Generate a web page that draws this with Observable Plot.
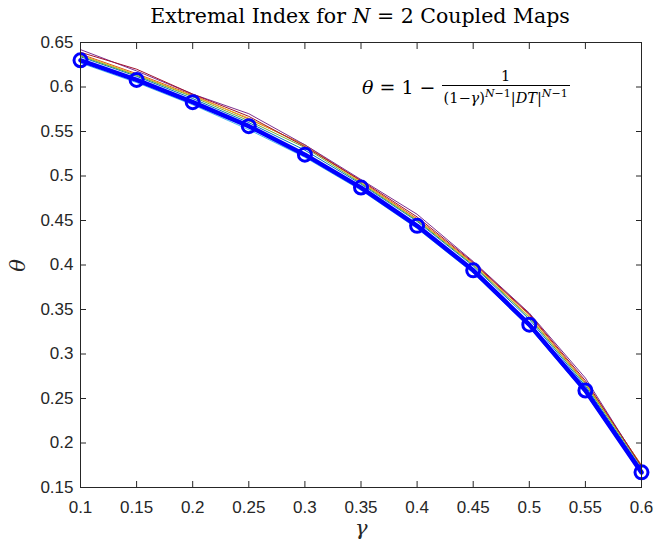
<!DOCTYPE html>
<html>
<head>
<meta charset="utf-8">
<script src="https://cdn.jsdelivr.net/npm/d3@7"></script>
<script src="https://cdn.jsdelivr.net/npm/@observablehq/plot@0.6"></script>
<style>
  body { margin: 0; background: #fff; }
  #wrap { position: relative; width: 658px; height: 542px; overflow: hidden; }
  #title { position: absolute; left: 0; width: 658px; top: 4px; text-align: center; padding-left: 62px; box-sizing: border-box;
           font-family: "DejaVu Serif", serif; font-size: 20.5px; color: #000; white-space: nowrap; }
  .lbl { position: absolute; font-family: "DejaVu Serif", serif; font-style: italic; font-size: 21px; line-height: 1; color: #262626; }
  #formula { position: absolute; left: 362px; top: 68px; font-family: "DejaVu Serif", serif; color: #000; white-space: nowrap; display: flex; align-items: center; }
  #formula .lhs { font-size: 19px; }
  #formula .frac { display: inline-flex; flex-direction: column; align-items: center; margin-left: 6px; font-size: 14.5px; }
  #formula .num { padding: 0 2px 1px; }
  #formula .den { border-top: 1px solid #000; padding: 1px 2px 0; }
  #formula sup { font-size: 11px; }
</style>
</head>
<body>
<div id="wrap">
  <div id="title">Extremal Index for <i>N</i> = 2 Coupled Maps</div>
  <div id="formula"><span class="lhs"><i>θ</i> = 1 − </span><span class="frac"><span class="num">1</span><span class="den">(1−<i>γ</i>)<sup><i>N</i>−1</sup>|<i>DT</i>|<sup><i>N</i>−1</sup></span></span></div>
  <div class="lbl" id="xlab" style="left:355px; top:518px;">γ</div>
  <div class="lbl" id="ylab" style="left:12px; top:255px; transform: rotate(-90deg);">θ</div>
</div>
<script>
// x values
const gamma = [0.1, 0.15, 0.2, 0.25, 0.3, 0.35, 0.4, 0.45, 0.5, 0.55, 0.6];
// theoretical extremal index (thick blue line with circles)
const thetaTheory = [0.630, 0.608, 0.583, 0.556, 0.524, 0.487, 0.444, 0.394, 0.333, 0.259, 0.167];
// thin estimated curves
const runBlue   = [0.634, 0.612, 0.587, 0.560, 0.529, 0.491, 0.449, 0.399, 0.339, 0.264, 0.171];
const runOrange = [0.637, 0.615, 0.591, 0.564, 0.535, 0.494, 0.452, 0.402, 0.344, 0.268, 0.175];
const runYellow = [0.636, 0.614, 0.590, 0.565, 0.534, 0.493, 0.451, 0.401, 0.342, 0.267, 0.175];
const runPurple = [0.642, 0.618, 0.592, 0.570, 0.535, 0.496, 0.457, 0.404, 0.346, 0.273, 0.173];
const runGreen  = [0.635, 0.613, 0.589, 0.562, 0.532, 0.492, 0.450, 0.400, 0.341, 0.266, 0.173];
const runCyan   = [0.627, 0.605, 0.580, 0.552, 0.521, 0.484, 0.441, 0.391, 0.330, 0.256, 0.165];
const runRed    = [0.639, 0.620, 0.592, 0.567, 0.533, 0.495, 0.454, 0.403, 0.345, 0.270, 0.174];
const runColors = ["#0072BD", "#D95319", "#EDB120", "#7E2F8E", "#77AC30", "#4DBEEE", "#A2142F"];
const runs = [runBlue, runOrange, runYellow, runPurple, runGreen, runCyan, runRed];
// tick labels
const xTicks = [0.1, 0.15, 0.2, 0.25, 0.3, 0.35, 0.4, 0.45, 0.5, 0.55, 0.6];
const yTicks = [0.15, 0.2, 0.25, 0.3, 0.35, 0.4, 0.45, 0.5, 0.55, 0.6, 0.65];

const theory = gamma.map((g, i) => ({g, t: thetaTheory[i]}));
const runMarks = runs.map((r, k) =>
  Plot.line(gamma.map((g, i) => ({g, t: r[i]})), {x: "g", y: "t", stroke: runColors[k], strokeWidth: 1})
);
const fmt = d => String(+d.toFixed(2));
const axisStyle = {fontSize: 17, fontFamily: "Liberation Sans, Arial, sans-serif", color: "#262626"};

const chart = Plot.plot({
  width: 658,
  height: 542,
  marginLeft: 80,
  marginRight: 17,
  marginTop: 42,
  marginBottom: 55,
  style: {background: "transparent", ...axisStyle, overflow: "visible"},
  x: {domain: [0.1, 0.6], label: null},
  y: {domain: [0.15, 0.65], label: null},
  marks: [
    Plot.axisX(xTicks, {anchor: "bottom", tickSize: -6, tickPadding: 19, tickFormat: fmt, stroke: "#262626", fill: "#262626"}),
    Plot.axisX(xTicks, {anchor: "top", tickSize: -6, text: null, stroke: "#262626"}),
    Plot.axisY(yTicks, {anchor: "left", tickSize: -6, tickPadding: 13, tickFormat: fmt, stroke: "#262626", fill: "#262626"}),
    Plot.axisY(yTicks, {anchor: "right", tickSize: -6, text: null, stroke: "#262626"}),
    ...runMarks,
    Plot.line(theory, {x: "g", y: "t", stroke: "#0000FF", strokeWidth: 4.5}),
    Plot.dot(theory, {x: "g", y: "t", r: 6.5, stroke: "#0000FF", strokeWidth: 3, fill: "none"}),
    Plot.frame({stroke: "#262626", strokeWidth: 1})
  ]
});
chart.style.position = "absolute";
chart.style.left = "0px";
chart.style.top = "0px";
document.getElementById("wrap").prepend(chart);
</script>
</body>
</html>
